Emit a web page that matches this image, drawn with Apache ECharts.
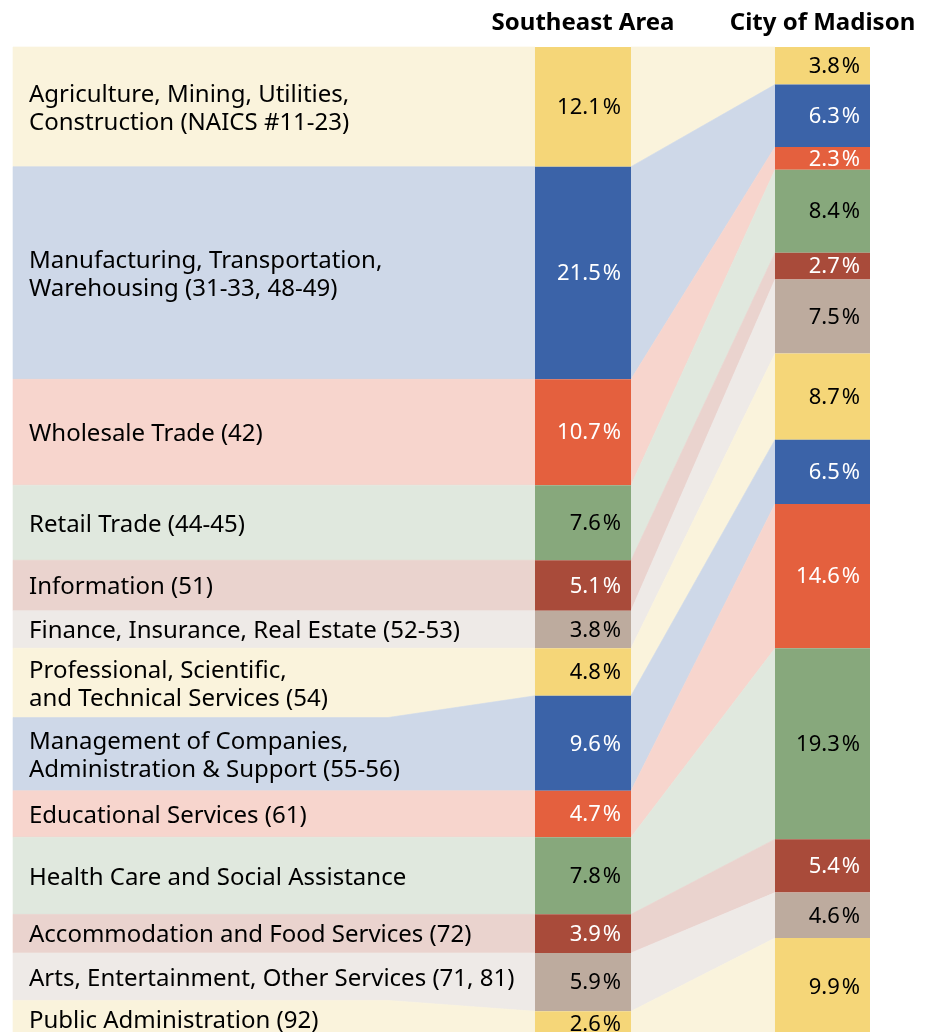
<!DOCTYPE html>
<html>
<head>
<meta charset="utf-8">
<script src="https://cdn.jsdelivr.net/npm/echarts@6/dist/echarts.min.js"></script>
<style>
  html, body { margin: 0; padding: 0; background: #ffffff; }
  #chart { width: 933px; height: 1032px; }
</style>
</head>
<body>
<div id="chart"></div>
<script>
// Employment by industry sector: share of jobs (%)
const industries = [
  'Agriculture, Mining, Utilities,\nConstruction (NAICS #11-23)',
  'Manufacturing, Transportation,\nWarehousing (31-33, 48-49)',
  'Wholesale Trade (42)',
  'Retail Trade (44-45)',
  'Information (51)',
  'Finance, Insurance, Real Estate (52-53)',
  'Professional, Scientific,\nand Technical Services (54)',
  'Management of Companies,\nAdministration & Support (55-56)',
  'Educational Services (61)',
  'Health Care and Social Assistance',
  'Accommodation and Food Services (72)',
  'Arts, Entertainment, Other Services (71, 81)',
  'Public Administration (92)'
];
const areaNames = ['Southeast Area', 'City of Madison'];
const southeastShare = [12.1, 21.5, 10.7, 7.6, 5.1, 3.8, 4.8, 9.6, 4.7, 7.8, 3.9, 5.9, 2.6];
const madisonShare   = [3.8, 6.3, 2.3, 8.4, 2.7, 7.5, 8.7, 6.5, 14.6, 19.3, 5.4, 4.6, 9.9];

// Height of each label row on the same % scale (two-line labels get a taller row)
const labelRowShare = [12.1, 21.5, 10.7, 7.6, 5.1, 3.8, 7.0, 7.4, 4.7, 7.8, 3.9, 4.8, 3.7];

// Colour families, cycled through the sectors
const families = [
  { dark: '#f5d678', light: '#faf3dc', text: '#000000' }, // yellow
  { dark: '#3b63a8', light: '#ced8e8', text: '#ffffff' }, // blue
  { dark: '#e4603e', light: '#f7d5cd', text: '#ffffff' }, // orange
  { dark: '#87a87c', light: '#e0e8de', text: '#000000' }, // green
  { dark: '#a94b3a', light: '#ead3ce', text: '#ffffff' }, // brick
  { dark: '#bdab9e', light: '#eeeae7', text: '#000000' }  // taupe
];
const fam = i => families[i % families.length];

// Horizontal layout (x axis runs in page pixels)
const X = {
  rowLeft: 13, labelText: 29, rowEnd: 388,
  seLeft: 535, seRight: 631,
  cityLeft: 775, cityRight: 870,
  valuePad: 10
};
const LABEL_NUDGE = 2;   // optical centring of the row labels
const VALUE_NUDGE = 1;   // optical centring of the value labels

function starts(arr) {
  const out = []; let acc = 0;
  arr.forEach(v => { out.push(acc); acc += v; });
  return out;
}
const seStart = starts(southeastShare);
const cityStart = starts(madisonShare);
const rowStart = starts(labelRowShare);

const FAMILY = '"Noto Sans", "Open Sans", sans-serif';
const FONT_LABEL = '24px ' + FAMILY;
const FONT_VALUE = '22px ' + FAMILY;
const FONT_HEAD = 'bold 24px ' + FAMILY;

const idx = industries.map((_, i) => i);

function rowsItem(params, api) {
  const i = params.dataIndex;
  const p = (x, y) => api.coord([x, y]);
  const r0 = rowStart[i], r1 = r0 + labelRowShare[i];
  const s0 = seStart[i], s1 = s0 + southeastShare[i];
  const c = fam(i);
  const mid = p(X.labelText, (r0 + r1) / 2);
  return {
    type: 'group',
    children: [
      {
        type: 'polygon',
        shape: { points: [p(X.rowLeft, r0), p(X.rowEnd, r0), p(X.seLeft, s0), p(X.seLeft, s1), p(X.rowEnd, r1), p(X.rowLeft, r1)] },
        style: { fill: c.light, stroke: c.light, lineWidth: 0.6 }
      },
      {
        type: 'text',
        x: mid[0], y: mid[1] + LABEL_NUDGE,
        style: { text: industries[i], font: FONT_LABEL, fill: '#000000', align: 'left', verticalAlign: 'middle', lineHeight: 28 }
      }
    ]
  };
}

function flowsItem(params, api) {
  const i = params.dataIndex;
  const p = (x, y) => api.coord([x, y]);
  const s0 = seStart[i], s1 = s0 + southeastShare[i];
  const c0 = cityStart[i], c1 = c0 + madisonShare[i];
  const c = fam(i);
  return {
    type: 'polygon',
    shape: { points: [p(X.seRight, s0), p(X.cityLeft, c0), p(X.cityLeft, c1), p(X.seRight, s1)] },
    style: { fill: c.light, stroke: c.light, lineWidth: 0.6 }
  };
}

function columnItem(values, startArr, x0, x1) {
  return function (params, api) {
    const i = params.dataIndex;
    const a = api.coord([x0, startArr[i]]);
    const b = api.coord([x1, startArr[i] + values[i]]);
    const c = fam(i);
    const ty = (a[1] + b[1]) / 2 + VALUE_NUDGE;
    return {
      type: 'group',
      children: [
        { type: 'rect', shape: { x: a[0], y: a[1], width: b[0] - a[0], height: b[1] - a[1] }, style: { fill: c.dark } },
        {
          type: 'text', x: b[0] - X.valuePad, y: ty,
          style: {
            text: '{n|' + values[i].toFixed(1) + '}{p|%}',
            align: 'right', verticalAlign: 'middle',
            rich: {
              n: { font: FONT_VALUE, fill: c.text },
              p: { font: FONT_VALUE, fill: c.text, padding: [0, 0, 0, 2] }
            }
          }
        }
      ]
    };
  };
}

const chart = echarts.init(document.getElementById('chart'), null, { renderer: 'canvas' });
chart.setOption({
  animation: false,
  backgroundColor: '#ffffff',
  grid: { left: 0, top: 47, width: 933, height: 989, outerBoundsMode: 'none', containLabel: false },
  xAxis: { type: 'value', min: 0, max: 933, show: false },
  yAxis: { type: 'value', min: 0, max: 100, inverse: true, show: false },
  graphic: [
    { type: 'text', x: (X.seLeft + X.seRight) / 2, y: 23, style: { text: areaNames[0], font: FONT_HEAD, fill: '#000000', align: 'center', verticalAlign: 'middle' } },
    { type: 'text', x: (X.cityLeft + X.cityRight) / 2, y: 23, style: { text: areaNames[1], font: FONT_HEAD, fill: '#000000', align: 'center', verticalAlign: 'middle' } }
  ],
  series: [
    { type: 'custom', name: 'rows', coordinateSystem: 'cartesian2d', data: idx, renderItem: rowsItem, z: 1 },
    { type: 'custom', name: 'flows', coordinateSystem: 'cartesian2d', data: idx, renderItem: flowsItem, z: 1 },
    { type: 'custom', name: areaNames[0], coordinateSystem: 'cartesian2d', data: idx,
      renderItem: columnItem(southeastShare, seStart, X.seLeft, X.seRight), z: 2 },
    { type: 'custom', name: areaNames[1], coordinateSystem: 'cartesian2d', data: idx,
      renderItem: columnItem(madisonShare, cityStart, X.cityLeft, X.cityRight), z: 2 }
  ]
});
</script>
</body>
</html>
